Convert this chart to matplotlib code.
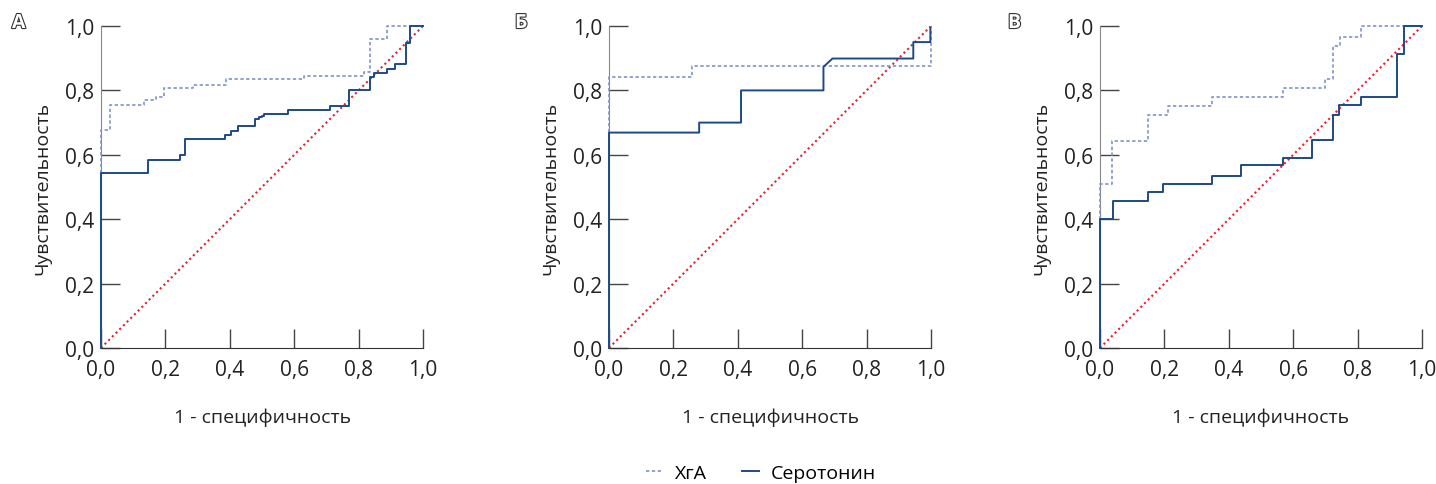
import numpy as np
import matplotlib.pyplot as plt
import matplotlib.patheffects as pe
from matplotlib.lines import Line2D

plt.rcParams['font.family'] = ['Open Sans', 'DejaVu Sans']

# Panel A (step points, post)
a_xga_x = [0.0, 0.0, 0.029, 0.132, 0.17, 0.196, 0.286, 0.387, 0.63, 0.816, 0.835, 0.888, 1.0]
a_xga_y = [0.0, 0.676, 0.754, 0.769, 0.781, 0.808, 0.818, 0.834, 0.846, 0.858, 0.961, 1.0, 1.0]
a_ser_x = [0.0, 0.0, 0.145, 0.246, 0.262, 0.386, 0.403, 0.426, 0.478, 0.49, 0.5, 0.505, 0.58, 0.71,
           0.77, 0.835, 0.849, 0.888, 0.912, 0.947, 0.96, 1.0]
a_ser_y = [0.0, 0.543, 0.584, 0.599, 0.648, 0.662, 0.675, 0.688, 0.71, 0.716, 0.722, 0.727, 0.739, 0.752,
           0.802, 0.843, 0.853, 0.866, 0.881, 0.946, 1.0, 1.0]

# Panel B (step points, post)
b_xga_x = [0.0, 0.0, 0.258, 1.0, 1.0]
b_xga_y = [0.0, 0.843, 0.875, 0.875, 1.0]
# Panel B serotonin: curve vertices (has one slanted segment from tied values)
b_ser_x = [0.0, 0.0, 0.28, 0.28, 0.41, 0.41, 0.666, 0.666, 0.694, 0.945, 0.945, 0.998, 0.998]
b_ser_y = [0.0, 0.669, 0.669, 0.70, 0.70, 0.80, 0.80, 0.873, 0.899, 0.899, 0.95, 0.95, 0.995]

# Panel C (step points, post)
c_xga_x = [0.0, 0.0, 0.036, 0.148, 0.212, 0.349, 0.567, 0.699, 0.723, 0.745, 0.81, 1.0]
c_xga_y = [0.0, 0.509, 0.643, 0.723, 0.752, 0.779, 0.808, 0.834, 0.938, 0.967, 1.0, 1.0]
c_ser_x = [0.0, 0.0, 0.041, 0.148, 0.195, 0.349, 0.437, 0.569, 0.657, 0.723, 0.743, 0.81, 0.921, 0.944, 1.0]
c_ser_y = [0.0, 0.40, 0.455, 0.483, 0.508, 0.535, 0.567, 0.59, 0.645, 0.725, 0.754, 0.78, 0.914, 1.0, 1.0]

panels = [
    ('А', a_xga_x, a_xga_y, a_ser_x, a_ser_y, 'post'),
    ('Б', b_xga_x, b_xga_y, b_ser_x, b_ser_y, 'line'),
    ('В', c_xga_x, c_xga_y, c_ser_x, c_ser_y, 'post'),
]
lefts = [101, 609, 1100]
letter_x = [12, 515, 1008]

ticks = [0.0, 0.2, 0.4, 0.6, 0.8, 1.0]
tick_labels = ['0,0', '0,2', '0,4', '0,6', '0,8', '1,0']

xga_color = '#7f93c6'
ser_color = '#1d4a87'
diag_color = '#e8202a'
fs = 14

W, H = 1436, 485
fig = plt.figure(figsize=(W / 100, H / 100), dpi=100)

for (letter, xx, xy, sx, sy, mode), left, lx in zip(panels, lefts, letter_x):
    ax = fig.add_axes([left / W, 1 - 349 / H, 322 / W, 322 / H])
    ax.plot([0, 1], [0, 1], linestyle=(0, (1, 1.5)), color=diag_color, lw=1.5, zorder=1)
    ax.step(xx, xy, where='post', color=xga_color, lw=1.2, linestyle=(0, (2, 1.5)),
            zorder=3, clip_on=False)
    if mode == 'line':
        ax.plot(sx, sy, color=ser_color, lw=1.4, zorder=4, clip_on=False)
    else:
        ax.step(sx, sy, where='post', color=ser_color, lw=1.4, zorder=4, clip_on=False)
    ax.set_xlim(0, 1)
    ax.set_ylim(0, 1)
    ax.set_xticks(ticks)
    ax.set_yticks(ticks)
    ax.set_xticklabels(tick_labels)
    ax.set_yticklabels(tick_labels)
    ax.tick_params(direction='in', length=14, width=1, colors='#444444', labelsize=15, pad=5)
    ax.tick_params(axis='x', pad=8)
    ax.tick_params(labelcolor='#222222')
    for s in ['top', 'right']:
        ax.spines[s].set_visible(False)
    ax.spines['left'].set_color('#888888')
    ax.spines['bottom'].set_color('#333333')
    ax.set_xlabel('1 - специфичность', fontsize=fs, color='#222222', labelpad=20)
    ax.set_ylabel('Чувствительность', fontsize=fs, color='#222222', labelpad=10)
    fig.text(lx / W, 1 - 24 / H, letter, fontsize=14, fontweight='bold', color='white',
             ha='left', va='center',
             path_effects=[pe.withStroke(linewidth=1.6, foreground='#333333')])

# legend
handles = [Line2D([], [], color=xga_color, lw=1.2, linestyle=(0, (2, 1.5))),
           Line2D([], [], color=ser_color, lw=1.4)]
fig.legend(handles, ['ХгА', 'Серотонин'], loc='center', bbox_to_anchor=(761 / W, 1 - 474 / H),
           ncol=2, frameon=False, fontsize=fs, handlelength=0.9, columnspacing=1.8, handletextpad=0.6)

fig.savefig('out.png', dpi=100)
